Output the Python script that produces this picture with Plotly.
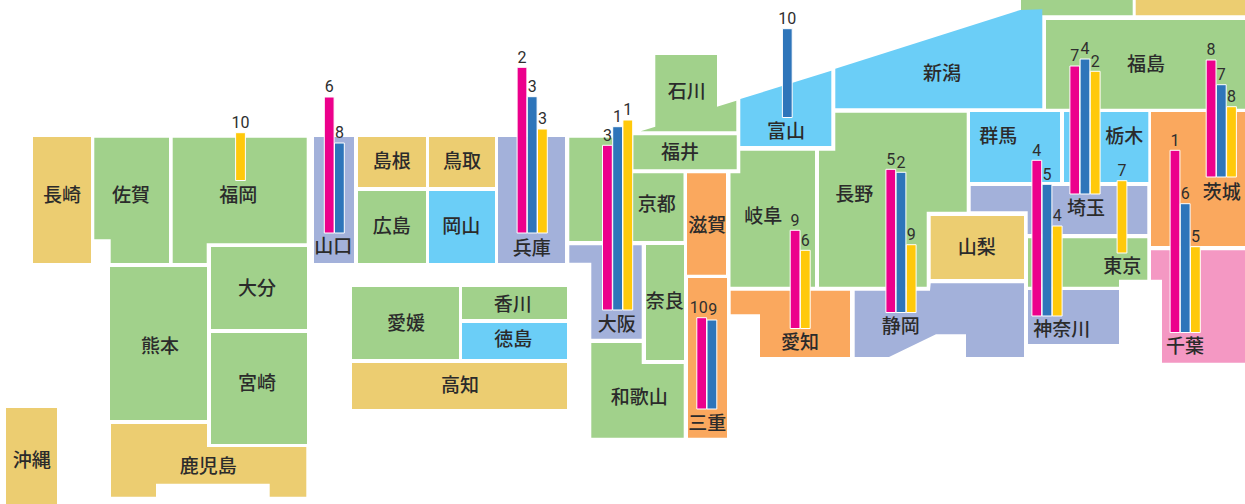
import plotly.graph_objects as go

WIDTH, HEIGHT = 1245, 504

# Rank shown above each bar, and the bar length, per indicator.
PINK_PREFS = ["千葉", "兵庫", "大阪", "神奈川", "静岡", "山口", "埼玉", "茨城", "愛知", "三重"]
PINK_RANKS = [1, 2, 3, 4, 5, 6, 7, 8, 9, 10]
PINK_VALUES = [182.2, 165.7, 164.7, 155.7, 143.2, 136.0, 128.0, 117.0, 98.2, 91.3]

BLUE_PREFS = ["大阪", "静岡", "兵庫", "埼玉", "神奈川", "千葉", "茨城", "山口", "三重", "富山"]
BLUE_RANKS = [1, 2, 3, 4, 5, 6, 7, 8, 9, 10]
BLUE_VALUES = [183.3, 140.2, 136.3, 135.0, 131.7, 128.8, 92.3, 90.0, 89.0, 88.8]

YELLOW_PREFS = ["大阪", "埼玉", "兵庫", "神奈川", "千葉", "愛知", "東京", "茨城", "静岡", "福岡"]
YELLOW_RANKS = [1, 2, 3, 4, 5, 6, 7, 8, 9, 10]
YELLOW_VALUES = [190.0, 122.7, 104.0, 90.0, 85.8, 78.2, 72.3, 70.3, 67.8, 47.8]

COLORS = {
    "green": "#A1D18B",
    "yellow": "#ECCD71",
    "blue": "#6BCEF7",
    "purple": "#A3B1DA",
    "orange": "#FAA85E",
    "pink": "#F498C3",
}
PINK_BAR, BLUE_BAR, YELLOW_BAR = "#EC008C", "#2E75BA", "#FFC90B"

# Tile outlines of the cartogram, in axis units.
TILES = [
    ("green", [(1021, -2), (1132.7, -2), (1132.7, 15.3), (1021, 15.3)]),
    ("yellow", [(1135.7, -2), (1247, -2), (1247, 15.3), (1135.7, 15.3)]),
    ("yellow", [(33, 137), (91, 137), (91, 263), (33, 263)]),
    ("green", [(94.3, 137.7), (169, 137.7), (169, 263), (110.7, 263), (110.7, 239.3), (94.3, 239.3)]),
    ("green", [(172.7, 137.7), (306.7, 137.7), (306.7, 243.3), (206.7, 243.3), (206.7, 263), (172.7, 263)]),
    ("green", [(211, 247), (307, 247), (307, 329), (211, 329)]),
    ("green", [(110, 267), (207, 267), (207, 420), (110, 420)]),
    ("green", [(211, 333), (307, 333), (307, 444), (211, 444)]),
    ("yellow", [(111, 424), (207, 424), (207, 447), (306.3, 447), (306.3, 496.7), (269.7, 496.7),
                (269.7, 483.7), (156, 483.7), (156, 496.7), (111, 496.7)]),
    ("yellow", [(6, 408), (57, 408), (57, 506), (6, 506)]),
    ("purple", [(314, 137), (354, 137), (354, 263), (314, 263)]),
    ("yellow", [(358, 137), (426, 137), (426, 187), (358, 187)]),
    ("yellow", [(429, 137), (495, 137), (495, 187), (429, 187)]),
    ("green", [(358, 191), (426, 191), (426, 263), (358, 263)]),
    ("blue", [(429, 191), (495, 191), (495, 263), (429, 263)]),
    ("purple", [(498, 137), (565, 137), (565, 263), (498, 263)]),
    ("green", [(569.3, 137.7), (632, 137.7), (632, 173.3), (683.5, 173.3), (683.5, 241), (569.3, 241)]),
    ("green", [(633.3, 135.3), (736.7, 135.3), (736.7, 169.3), (633.3, 169.3)]),
    ("green", [(655.3, 55), (717, 55), (717, 106.7), (736.3, 100.7), (736.3, 131.3), (640.7, 131.3), (655.3, 126.7)]),
    ("blue", [(740.3, 99), (831.3, 70.7), (831.3, 146), (740.3, 146)]),
    ("blue", [(835.3, 68.7), (1020.3, 10), (1042.3, 9.3), (1042.3, 108.3), (835.3, 108.3)]),
    ("green", [(835.3, 112.7), (966.7, 112.7), (966.7, 211.7), (926.7, 211.7), (926.7, 286.7),
               (819, 286.7), (819, 150.7), (835.3, 150.7)]),
    ("green", [(740.3, 150.7), (815, 150.7), (815, 286.7), (730.5, 286.7), (730.5, 173.3), (740.3, 173.3)]),
    ("orange", [(687, 173.3), (726, 173.3), (726, 274.7), (687, 274.7)]),
    ("green", [(646, 245), (684, 245), (684, 360), (646, 360)]),
    ("purple", [(569.3, 245.3), (641.7, 245.3), (641.7, 338.7), (591.3, 338.7), (591.3, 262.7), (569.3, 262.7)]),
    ("green", [(591.3, 343), (641.7, 343), (641.7, 364), (683.7, 364), (683.7, 437.7), (591.3, 437.7)]),
    ("orange", [(688, 278), (727, 278), (727, 437.7), (688, 437.7)]),
    ("green", [(352, 287), (459, 287), (459, 359), (352, 359)]),
    ("green", [(462, 287), (567, 287), (567, 319), (462, 319)]),
    ("blue", [(462, 323), (567, 323), (567, 359), (462, 359)]),
    ("yellow", [(352, 363), (567, 363), (567, 409), (352, 409)]),
    ("orange", [(730.7, 290.7), (850, 290.7), (850, 357), (760, 357), (760, 314.3), (730.7, 314.3)]),
    ("purple", [(854.7, 290.7), (930, 290.7), (930.7, 283.3), (1024, 283.3), (1024, 357), (966, 357),
                (966, 334.3), (936, 334.3), (889, 357), (854.7, 357)]),
    ("yellow", [(930.7, 216), (1024, 216), (1024, 279), (930.7, 279)]),
    ("purple", [(970.7, 186), (1147.3, 186), (1147.3, 234), (1027.7, 234), (1027.7, 211.3), (970.7, 211.3)]),
    ("green", [(1028, 238.3), (1147.3, 238.3), (1147.3, 279.7), (1119, 279.7), (1119, 286.7), (1028, 286.7)]),
    ("purple", [(1028, 290), (1119, 290), (1119, 344), (1028, 344)]),
    ("pink", [(1151, 250.3), (1247, 250.3), (1247, 362.7), (1162, 362.7), (1162, 279.7), (1151, 279.7)]),
    ("orange", [(1151, 112), (1247, 112), (1247, 246), (1151, 246)]),
    ("blue", [(970, 112), (1060, 112), (1060, 182), (970, 182)]),
    ("blue", [(1064, 112), (1148.3, 112), (1148.3, 182), (1064, 182)]),
    ("green", [(1046, 20), (1247, 20), (1247, 108.7), (1046, 108.7)]),
]

# Prefecture name placement.
NAME_SPOTS = {
    "長崎": (62, 197), "佐賀": (131, 197), "福岡": (238.2, 197), "大分": (257, 290.3),
    "熊本": (160, 348), "宮崎": (257, 385), "鹿児島": (208.3, 468), "沖縄": (31.7, 462),
    "山口": (333.3, 248.7), "島根": (391.7, 163.7), "鳥取": (462, 163.7), "広島": (391.7, 228),
    "岡山": (461.3, 228), "兵庫": (531.7, 250.3), "大阪": (616.7, 326), "奈良": (664.7, 303),
    "和歌山": (639.3, 399.3), "三重": (707.3, 425.3), "愛媛": (406, 325.3), "香川": (512.7, 306),
    "徳島": (513.3, 341.7), "高知": (460, 387), "石川": (686.7, 93.7), "福井": (680, 154.3),
    "京都": (656.7, 206), "滋賀": (707.3, 227), "岐阜": (763.3, 218.7), "長野": (854.3, 196),
    "富山": (786, 133), "新潟": (942, 75), "愛知": (800, 344.3), "静岡": (900.7, 328),
    "山梨": (976.7, 249.3), "群馬": (998.3, 138), "栃木": (1124.3, 138), "福島": (1146, 66),
    "茨城": (1221.7, 194.7), "埼玉": (1086, 210.3), "東京": (1122.3, 268), "神奈川": (1061.7, 331),
    "千葉": (1185, 348.7),
}

# Centre of each bar cluster and the line its bars stand on.
CLUSTERS = {
    "福岡": (240.5, 180.5), "山口": (334.3, 233), "兵庫": (532.2, 233), "大阪": (617.6, 310),
    "三重": (706.8, 409), "富山": (787.3, 117.5), "愛知": (800.2, 328.5), "静岡": (901, 312.5),
    "埼玉": (1085, 194), "茨城": (1221.3, 177), "神奈川": (1047, 316), "東京": (1122, 253),
    "千葉": (1185.2, 332.5),
}
BAR_PITCH = 10.2
LABEL_RISE = 8.8
# Sideways nudges that keep neighbouring rank labels apart.
LABEL_NUDGE = {("三重", 0): -3.0, ("三重", 1): 0.8}
SERIES = [
    (PINK_PREFS, PINK_RANKS, PINK_VALUES, PINK_BAR),
    (BLUE_PREFS, BLUE_RANKS, BLUE_VALUES, BLUE_BAR),
    (YELLOW_PREFS, YELLOW_RANKS, YELLOW_VALUES, YELLOW_BAR),
]


def slot_x(pref, series_index):
    """Bars in a cluster sit side by side, centred, in series order."""
    present = [i for i, s in enumerate(SERIES) if pref in s[0]]
    pos = present.index(series_index)
    return CLUSTERS[pref][0] + (pos - (len(present) - 1) / 2) * BAR_PITCH


def tile_path(points):
    head, *rest = points
    return f"M{head[0]},{head[1]} " + " ".join(f"L{x},{y}" for x, y in rest) + " Z"


fig = go.Figure()

for idx, (prefs, ranks, values, color) in enumerate(SERIES):
    fig.add_trace(go.Bar(
        x=[slot_x(p, idx) for p in prefs],
        y=[-v for v in values],
        base=[CLUSTERS[p][1] for p in prefs],
        width=9.8,
        marker=dict(color=color, line=dict(color="white", width=1)),
        hoverinfo="skip",
        showlegend=False,
    ))

for idx, (prefs, ranks, values, color) in enumerate(SERIES):
    fig.add_trace(go.Scatter(
        x=[slot_x(p, idx) + LABEL_NUDGE.get((p, idx), 0) for p in prefs],
        y=[CLUSTERS[p][1] - v - LABEL_RISE for p, v in zip(prefs, values)],
        text=[str(r) for r in ranks],
        mode="text",
        textposition="middle center",
        textfont=dict(family="Roboto, sans-serif", size=16, color="#2E2E2E"),
        hoverinfo="skip",
        showlegend=False,
    ))

fig.add_trace(go.Scatter(
    x=[NAME_SPOTS[n][0] for n in NAME_SPOTS],
    y=[NAME_SPOTS[n][1] for n in NAME_SPOTS],
    text=list(NAME_SPOTS),
    mode="text",
    textposition="middle center",
    textfont=dict(family="Noto Sans CJK JP, sans-serif", size=19, color="#2B2B2B", weight=500),
    hoverinfo="skip",
    showlegend=False,
))

fig.update_layout(
    width=WIDTH,
    height=HEIGHT,
    autosize=False,
    margin=dict(l=0, r=0, t=0, b=0),
    paper_bgcolor="white",
    plot_bgcolor="white",
    barmode="overlay",
    shapes=[
        dict(type="path", path=tile_path(pts), xref="x", yref="y", layer="below",
             fillcolor=COLORS[c], line=dict(width=0))
        for c, pts in TILES
    ],
    xaxis=dict(range=[0, WIDTH], visible=False, fixedrange=True),
    yaxis=dict(range=[HEIGHT, 0], visible=False, fixedrange=True),
)

fig.write_html("out.html", config={"displayModeBar": False})
